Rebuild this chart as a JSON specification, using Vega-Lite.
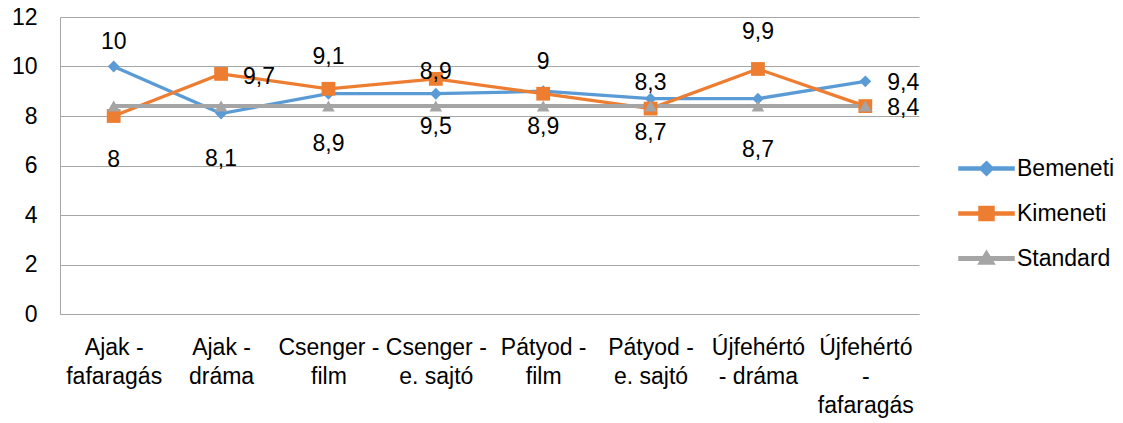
{
  "$schema": "https://vega.github.io/schema/vega-lite/v6.json",
  "autosize": {"type": "none"},
  "padding": {"left": 60, "top": 17, "right": 204, "bottom": 109},
  "width": 859,
  "height": 297,
  "background": "white",
  "config": {
    "view": {"stroke": null},
    "font": "Liberation Sans",
    "axis": {"labelFont": "Liberation Sans", "labelFontSize": 23, "labelColor": "#000000", "title": null}
  },
  "datasets": {
    "series": [
      {"cat": "Ajak - fafaragás", "series": "Bemeneti", "value": 10},
      {"cat": "Ajak - dráma", "series": "Bemeneti", "value": 8.1},
      {"cat": "Csenger - film", "series": "Bemeneti", "value": 8.9},
      {"cat": "Csenger - e. sajtó", "series": "Bemeneti", "value": 8.9},
      {"cat": "Pátyod - film", "series": "Bemeneti", "value": 9},
      {"cat": "Pátyod - e. sajtó", "series": "Bemeneti", "value": 8.7},
      {"cat": "Újfehértó - dráma", "series": "Bemeneti", "value": 8.7},
      {"cat": "Újfehértó - fafaragás", "series": "Bemeneti", "value": 9.4},
      {"cat": "Ajak - fafaragás", "series": "Kimeneti", "value": 8},
      {"cat": "Ajak - dráma", "series": "Kimeneti", "value": 9.7},
      {"cat": "Csenger - film", "series": "Kimeneti", "value": 9.1},
      {"cat": "Csenger - e. sajtó", "series": "Kimeneti", "value": 9.5},
      {"cat": "Pátyod - film", "series": "Kimeneti", "value": 8.9},
      {"cat": "Pátyod - e. sajtó", "series": "Kimeneti", "value": 8.3},
      {"cat": "Újfehértó - dráma", "series": "Kimeneti", "value": 9.9},
      {"cat": "Újfehértó - fafaragás", "series": "Kimeneti", "value": 8.4},
      {"cat": "Ajak - fafaragás", "series": "Standard", "value": 8.4},
      {"cat": "Ajak - dráma", "series": "Standard", "value": 8.4},
      {"cat": "Csenger - film", "series": "Standard", "value": 8.4},
      {"cat": "Csenger - e. sajtó", "series": "Standard", "value": 8.4},
      {"cat": "Pátyod - film", "series": "Standard", "value": 8.4},
      {"cat": "Pátyod - e. sajtó", "series": "Standard", "value": 8.4},
      {"cat": "Újfehértó - dráma", "series": "Standard", "value": 8.4},
      {"cat": "Újfehértó - fafaragás", "series": "Standard", "value": 8.4}
    ],
    "labelsCentered": [
      {"cat": "Ajak - fafaragás", "text": "10", "at": 10.99},
      {"cat": "Ajak - fafaragás", "text": "8", "at": 6.22},
      {"cat": "Ajak - dráma", "text": "8,1", "at": 6.26},
      {"cat": "Csenger - film", "text": "9,1", "at": 10.38},
      {"cat": "Csenger - film", "text": "8,9", "at": 6.87},
      {"cat": "Csenger - e. sajtó", "text": "9,5", "at": 7.54},
      {"cat": "Csenger - e. sajtó", "text": "8,9", "at": 9.78},
      {"cat": "Pátyod - film", "text": "9", "at": 10.18},
      {"cat": "Pátyod - film", "text": "8,9", "at": 7.54},
      {"cat": "Pátyod - e. sajtó", "text": "8,3", "at": 9.33},
      {"cat": "Pátyod - e. sajtó", "text": "8,7", "at": 7.31},
      {"cat": "Újfehértó - dráma", "text": "9,9", "at": 11.39},
      {"cat": "Újfehértó - dráma", "text": "8,7", "at": 6.63}
    ],
    "labelsRight": [
      {"cat": "Ajak - dráma", "text": "9,7", "at": 9.58},
      {"cat": "Újfehértó - fafaragás", "text": "9,4", "at": 9.33},
      {"cat": "Újfehértó - fafaragás", "text": "8,4", "at": 8.32}
    ]
  },
  "encoding": {
    "x": {
      "field": "cat",
      "type": "nominal",
      "scale": {
        "type": "point",
        "padding": 0.5,
        "domain": ["Ajak - fafaragás", "Ajak - dráma", "Csenger - film", "Csenger - e. sajtó", "Pátyod - film", "Pátyod - e. sajtó", "Újfehértó - dráma", "Újfehértó - fafaragás"]
      },
      "axis": {
        "labelAngle": 0,
        "ticks": false,
        "domainColor": "#A6A6A6",
        "domainWidth": 1,
        "grid": false,
        "labelPadding": 22,
        "labelLineHeight": 29,
        "labelOverlap": false,
        "labelBound": false,
        "labelLimit": 0,
        "labelBaseline": "top",
        "labelExpr": "datum.value === 'Újfehértó - dráma' ? ['Újfehértó', '- dráma'] : datum.value === 'Újfehértó - fafaragás' ? ['Újfehértó', '-', 'fafaragás'] : [slice(datum.value, 0, indexof(datum.value, ' - ') + 2), slice(datum.value, indexof(datum.value, ' - ') + 3)]"
      }
    },
    "color": {
      "field": "series",
      "type": "nominal",
      "scale": {"domain": ["Bemeneti", "Kimeneti", "Standard"], "range": ["#5B9BD5", "#ED7D31", "#A5A5A5"]},
      "legend": {
        "orient": "none",
        "legendX": 915,
        "legendY": 140,
        "title": null,
        "padding": 0,
        "symbolSize": 400,
        "symbolOpacity": 1,
        "labelOffset": 19,
        "labelFont": "Liberation Sans",
        "labelFontSize": 23,
        "labelColor": "#000000",
        "rowPadding": 21,
        "labelLimit": 0
      }
    }
  },
  "layer": [
    {
      "data": {"name": "series"},
      "transform": [{"filter": "datum.series !== 'Standard'"}],
      "mark": {"type": "line", "strokeWidth": 3.25},
      "encoding": {
        "y": {
          "field": "value",
          "type": "quantitative",
          "scale": {"domain": [0, 12], "nice": false, "zero": true},
          "axis": {
            "values": [0, 2, 4, 6, 8, 10, 12],
            "grid": true,
            "gridColor": "#A6A6A6",
            "gridWidth": 1,
            "domainColor": "#A6A6A6",
            "ticks": false,
            "tickSize": 0,
            "labelPadding": 23
          }
        },
        "detail": {"field": "series"}
      }
    },
    {
      "data": {"name": "series"},
      "transform": [{"filter": "datum.series === 'Standard'"}],
      "mark": {"type": "line", "strokeWidth": 4},
      "encoding": {
        "y": {"field": "value", "type": "quantitative"}
      }
    },
    {
      "data": {"name": "series"},
      "transform": [{"filter": "datum.value < 0"}],
      "mark": {"type": "point", "filled": true, "opacity": 1},
      "encoding": {
        "y": {"field": "value", "type": "quantitative"},
        "shape": {
          "field": "series",
          "type": "nominal",
          "scale": {
            "domain": ["Bemeneti", "Kimeneti", "Standard"],
            "range": [
              "M-2.75,-0.16H2.75V0.16H-2.75ZM0,-0.7L0.7,0L0,0.7L-0.7,0Z",
              "M-2.75,-0.16H2.75V0.16H-2.75ZM-0.75,-0.7H0.75V0.7H-0.75Z",
              "M-2.75,-0.18H2.75V0.18H-2.75ZM0,-0.75L0.8,0.55H-0.8Z"
            ]
          }
        }
      }
    },
    {
      "data": {"name": "series"},
      "transform": [{"filter": "datum.series === 'Bemeneti'"}],
      "mark": {"type": "point", "filled": true, "opacity": 1, "shape": "diamond", "size": 140},
      "encoding": {"y": {"field": "value", "type": "quantitative"}}
    },
    {
      "data": {"name": "series"},
      "transform": [{"filter": "datum.series === 'Kimeneti'"}],
      "mark": {"type": "point", "filled": true, "opacity": 1, "shape": "square", "size": 190},
      "encoding": {"y": {"field": "value", "type": "quantitative"}}
    },
    {
      "data": {"name": "series"},
      "transform": [{"filter": "datum.series === 'Standard'"}],
      "mark": {"type": "point", "filled": true, "opacity": 1, "shape": "triangle-up", "size": 160},
      "encoding": {"y": {"field": "value", "type": "quantitative"}}
    },
    {
      "data": {"name": "labelsCentered"},
      "mark": {"type": "text", "font": "Liberation Sans", "fontSize": 23, "align": "center", "baseline": "middle"},
      "encoding": {
        "y": {"field": "at", "type": "quantitative"},
        "text": {"field": "text", "type": "nominal"},
        "color": {"value": "#000000"}
      }
    },
    {
      "data": {"name": "labelsRight"},
      "mark": {"type": "text", "font": "Liberation Sans", "fontSize": 23, "align": "left", "baseline": "middle", "dx": 22},
      "encoding": {
        "y": {"field": "at", "type": "quantitative"},
        "text": {"field": "text", "type": "nominal"},
        "color": {"value": "#000000"}
      }
    }
  ]
}
